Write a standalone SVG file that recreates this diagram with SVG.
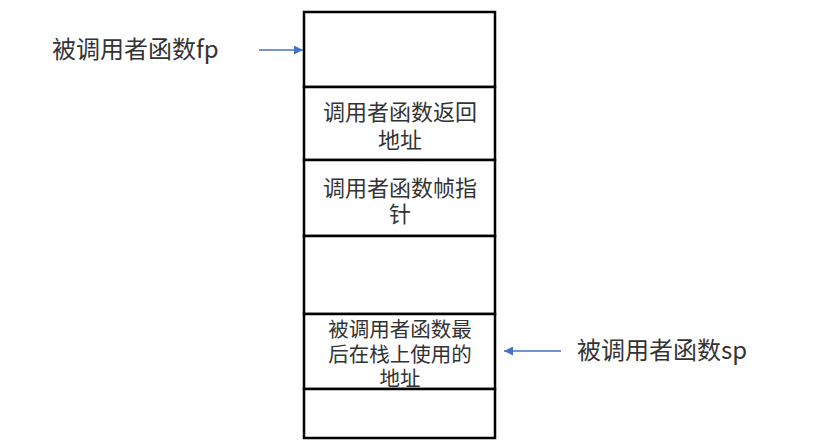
<svg xmlns="http://www.w3.org/2000/svg" width="815" height="442" viewBox="0 0 815 442">
<style>
.cell{fill:#fff;stroke:#000;stroke-width:2.5}
.t{font-family:"Microsoft YaHei","Noto Sans CJK SC",sans-serif;fill:#333}
.in{font-size:22px;text-anchor:middle}
.in2{font-size:20.5px;text-anchor:middle}
.lb{font-size:24px}
.con{stroke:#4472c4;stroke-width:1.3;fill:none;marker-end:url(#ah)}
</style>
<defs>
<marker id="ah" viewBox="0 0 10 10" refX="10" refY="5" markerWidth="10" markerHeight="9" markerUnits="userSpaceOnUse" orient="auto">
<path d="M0,0 L10,5 L0,10 z" fill="#4472c4"/>
</marker>
</defs>
<rect width="815" height="442" fill="#fff"/>
<g id="stack">
<g id="cell-fp"><rect class="cell" x="304" y="12" width="191" height="75"/></g>
<g id="cell-ret"><rect class="cell" x="304" y="87" width="191" height="73"/>
<text class="t in" x="400" y="120">调用者函数返回</text>
<text class="t in" x="400" y="148">地址</text></g>
<g id="cell-frame"><rect class="cell" x="304" y="160" width="191" height="76"/>
<text class="t in" x="400" y="196">调用者函数帧指</text>
<text class="t in" x="400" y="222">针</text></g>
<g id="cell-empty"><rect class="cell" x="304" y="236" width="191" height="78"/></g>
<g id="cell-sp"><rect class="cell" x="304" y="314" width="191" height="75"/>
<text class="t in2" x="400" y="337">被调用者函数最</text>
<text class="t in2" x="400" y="362">后在栈上使用的</text>
<text class="t in2" x="400" y="386">地址</text></g>
<g id="cell-bottom"><rect class="cell" x="304" y="389" width="191" height="49"/></g>
</g>
<g id="label-fp"><text class="t lb" x="52" y="58">被调用者函数fp</text></g>
<g id="label-sp"><text class="t lb" x="577" y="359">被调用者函数sp</text></g>
<g id="connectors">
<line class="con" x1="259" y1="50" x2="303" y2="50"/>
<line class="con" x1="561" y1="351" x2="504" y2="351"/>
</g>
</svg>
